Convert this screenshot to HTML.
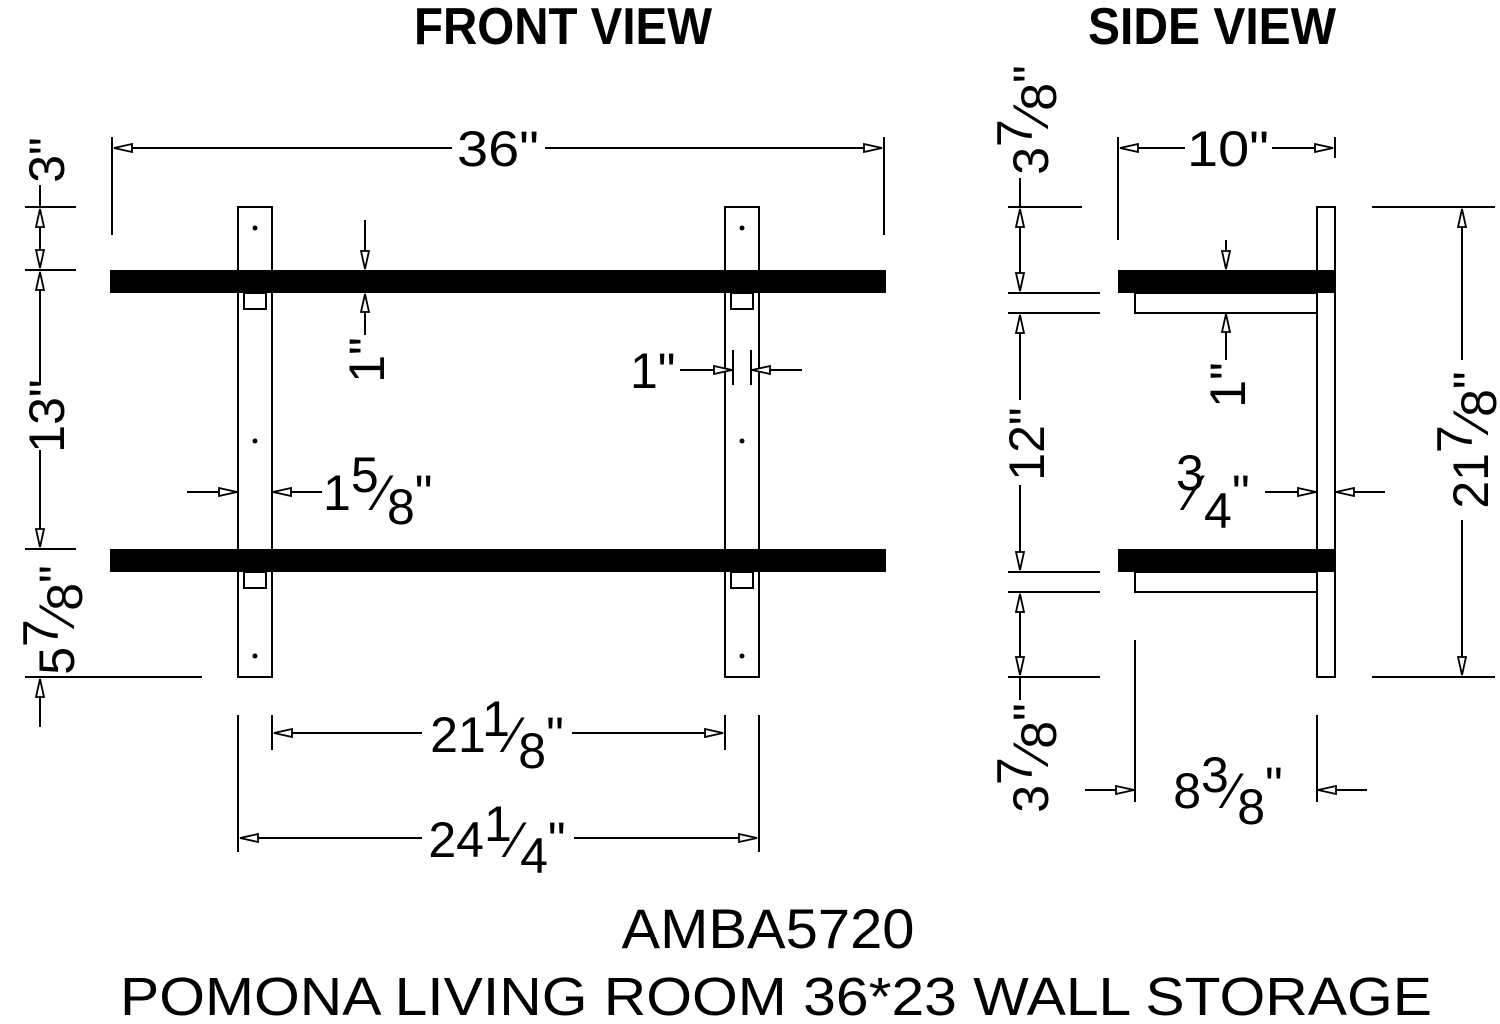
<!DOCTYPE html>
<html><head><meta charset="utf-8"><style>
html,body{margin:0;padding:0;background:#fff;}
svg{display:block;font-family:"Liberation Sans",sans-serif;}
</style></head><body>
<svg width="1500" height="1024" viewBox="0 0 1500 1024" xmlns="http://www.w3.org/2000/svg">
<defs>
<marker id="a" markerUnits="userSpaceOnUse" markerWidth="22" markerHeight="14" refX="19" refY="7" orient="auto-start-reverse" viewBox="0 0 22 14">
<path d="M1,3 L19,7 L1,11 Z" fill="#fff" stroke="#000" stroke-width="1.8"/>
</marker>
</defs>
<g stroke="#000" stroke-width="2" fill="none">
<line x1="112" y1="137" x2="112" y2="235"/>
<line x1="884" y1="137" x2="884" y2="235"/>
<line x1="452" y1="148" x2="114" y2="148" marker-end="url(#a)"/>
<line x1="545" y1="148" x2="882" y2="148" marker-end="url(#a)"/>
<rect x="238" y="207" width="34" height="470"/>
<rect x="725" y="207" width="34" height="470"/>
<rect x="244" y="293" width="22" height="16"/>
<rect x="244" y="572" width="22" height="16"/>
<rect x="731" y="293" width="22" height="16"/>
<rect x="731" y="572" width="22" height="16"/>
<line x1="25" y1="207" x2="76" y2="207"/>
<line x1="25" y1="270" x2="76" y2="270"/>
<line x1="25" y1="549" x2="76" y2="549"/>
<line x1="25" y1="677" x2="202" y2="677"/>
<line x1="40" y1="185" x2="40" y2="207"/>
<line x1="40" y1="238" x2="40" y2="209" marker-end="url(#a)"/>
<line x1="40" y1="238" x2="40" y2="268" marker-end="url(#a)"/>
<line x1="40" y1="385" x2="40" y2="272" marker-end="url(#a)"/>
<line x1="40" y1="450" x2="40" y2="547" marker-end="url(#a)"/>
<line x1="40" y1="727" x2="40" y2="679" marker-end="url(#a)"/>
<line x1="365" y1="220" x2="365" y2="269" marker-end="url(#a)"/>
<line x1="365" y1="335" x2="365" y2="294" marker-end="url(#a)"/>
<line x1="187" y1="492" x2="237" y2="492" marker-end="url(#a)"/>
<line x1="322" y1="492" x2="273" y2="492" marker-end="url(#a)"/>
<line x1="733" y1="350" x2="733" y2="385"/>
<line x1="751" y1="350" x2="751" y2="385"/>
<line x1="680" y1="370" x2="732" y2="370" marker-end="url(#a)"/>
<line x1="802" y1="370" x2="752" y2="370" marker-end="url(#a)"/>
<line x1="272" y1="715" x2="272" y2="750"/>
<line x1="725" y1="715" x2="725" y2="750"/>
<line x1="422" y1="733" x2="274" y2="733" marker-end="url(#a)"/>
<line x1="572" y1="733" x2="723" y2="733" marker-end="url(#a)"/>
<line x1="238" y1="715" x2="238" y2="852"/>
<line x1="759" y1="715" x2="759" y2="852"/>
<line x1="422" y1="838" x2="240" y2="838" marker-end="url(#a)"/>
<line x1="574" y1="838" x2="757" y2="838" marker-end="url(#a)"/>

<rect x="1317" y="207" width="18" height="470"/>
<rect x="1135" y="293" width="182" height="20"/>
<rect x="1135" y="572" width="182" height="20"/>
<line x1="1118" y1="137" x2="1118" y2="240"/>
<line x1="1335" y1="137" x2="1335" y2="158"/>
<line x1="1185" y1="148" x2="1120" y2="148" marker-end="url(#a)"/>
<line x1="1272" y1="148" x2="1333" y2="148" marker-end="url(#a)"/>
<line x1="1008" y1="207" x2="1082" y2="207"/>
<line x1="1008" y1="293" x2="1100" y2="293"/>
<line x1="1008" y1="313" x2="1100" y2="313"/>
<line x1="1008" y1="572" x2="1100" y2="572"/>
<line x1="1008" y1="592" x2="1100" y2="592"/>
<line x1="1008" y1="677" x2="1100" y2="677"/>
<line x1="1020" y1="178" x2="1020" y2="207"/>
<line x1="1020" y1="250" x2="1020" y2="209" marker-end="url(#a)"/>
<line x1="1020" y1="250" x2="1020" y2="291" marker-end="url(#a)"/>
<line x1="1020" y1="400" x2="1020" y2="315" marker-end="url(#a)"/>
<line x1="1020" y1="485" x2="1020" y2="570" marker-end="url(#a)"/>
<line x1="1020" y1="635" x2="1020" y2="594" marker-end="url(#a)"/>
<line x1="1020" y1="635" x2="1020" y2="675" marker-end="url(#a)"/>
<line x1="1020" y1="677" x2="1020" y2="700"/>
<line x1="1226" y1="240" x2="1226" y2="269" marker-end="url(#a)"/>
<line x1="1226" y1="360" x2="1226" y2="314" marker-end="url(#a)"/>
<line x1="1265" y1="492" x2="1316" y2="492" marker-end="url(#a)"/>
<line x1="1385" y1="492" x2="1336" y2="492" marker-end="url(#a)"/>
<line x1="1372" y1="207" x2="1495" y2="207"/>
<line x1="1372" y1="677" x2="1495" y2="677"/>
<line x1="1462" y1="360" x2="1462" y2="209" marker-end="url(#a)"/>
<line x1="1462" y1="520" x2="1462" y2="675" marker-end="url(#a)"/>
<line x1="1135" y1="640" x2="1135" y2="802"/>
<line x1="1317" y1="715" x2="1317" y2="802"/>
<line x1="1085" y1="790" x2="1134" y2="790" marker-end="url(#a)"/>
<line x1="1367" y1="790" x2="1318" y2="790" marker-end="url(#a)"/>
</g>
<g fill="#000">
<rect x="110" y="270" width="776" height="23"/>
<rect x="110" y="549" width="776" height="23"/>
<rect x="1118" y="270" width="217" height="23"/>
<rect x="1118" y="549" width="217" height="23"/>
<circle cx="255" cy="228" r="2.5"/><circle cx="255" cy="441" r="2.5"/><circle cx="255" cy="656" r="2.5"/>
<circle cx="742" cy="228" r="2.5"/><circle cx="742" cy="441" r="2.5"/><circle cx="742" cy="656" r="2.5"/>
</g>
<g fill="#000" font-size="50">
<text x="563" y="44" font-weight="bold" font-size="52" text-anchor="middle" textLength="298" lengthAdjust="spacingAndGlyphs">FRONT VIEW</text>
<text x="1212" y="44" font-weight="bold" font-size="52" text-anchor="middle" textLength="248" lengthAdjust="spacingAndGlyphs">SIDE VIEW</text>
<text x="498" y="166" text-anchor="middle" textLength="82" lengthAdjust="spacingAndGlyphs">36"</text>
<text x="1228" y="166" text-anchor="middle" textLength="82" lengthAdjust="spacingAndGlyphs">10"</text>
<text transform="translate(64,160) rotate(-90)" text-anchor="middle">3"</text>
<text transform="translate(64,416) rotate(-90)" text-anchor="middle">13"</text>
<text transform="translate(74,620) rotate(-90)" text-anchor="middle">5<tspan dy="-16">7</tspan><tspan dy="16">⁄</tspan><tspan dy="8">8</tspan><tspan dy="-8">"</tspan></text>
<text transform="translate(384,360) rotate(-90)" text-anchor="middle">1"</text>
<text x="323" y="510">1<tspan dy="-18">5</tspan><tspan dy="18">⁄</tspan><tspan dy="14">8</tspan><tspan dy="-14">"</tspan></text>
<text x="630" y="388">1"</text>
<text x="497" y="752" text-anchor="middle">21<tspan dy="-16">1</tspan><tspan dy="16">⁄</tspan><tspan dy="16">8</tspan><tspan dy="-16">"</tspan></text>
<text x="497" y="857" text-anchor="middle">24<tspan dy="-16">1</tspan><tspan dy="16">⁄</tspan><tspan dy="16">4</tspan><tspan dy="-16">"</tspan></text>
<text transform="translate(1048,120) rotate(-90)" text-anchor="middle">3<tspan dy="-16">7</tspan><tspan dy="16">⁄</tspan><tspan dy="8">8</tspan><tspan dy="-8">"</tspan></text>
<text transform="translate(1044,444) rotate(-90)" text-anchor="middle">12"</text>
<text transform="translate(1048,758) rotate(-90)" text-anchor="middle">3<tspan dy="-16">7</tspan><tspan dy="16">⁄</tspan><tspan dy="8">8</tspan><tspan dy="-8">"</tspan></text>
<text transform="translate(1245,385) rotate(-90)" text-anchor="middle">1"</text>
<text><tspan x="1176" y="490">3</tspan><tspan x="1190" y="510">⁄</tspan><tspan x="1204" y="528">4</tspan><tspan x="1232" y="510">"</tspan></text>
<text transform="translate(1488,440) rotate(-90)" text-anchor="middle">21<tspan dy="-16">7</tspan><tspan dy="16">⁄</tspan><tspan dy="8">8</tspan><tspan dy="-8">"</tspan></text>
<text x="1228" y="808" text-anchor="middle">8<tspan dy="-16">3</tspan><tspan dy="16">⁄</tspan><tspan dy="16">8</tspan><tspan dy="-22">"</tspan></text>
<text x="768" y="948" font-size="56" text-anchor="middle" textLength="293" lengthAdjust="spacingAndGlyphs">AMBA5720</text>
<text x="120" y="1015" font-size="54" textLength="1312" lengthAdjust="spacingAndGlyphs">POMONA LIVING ROOM 36*23 WALL STORAGE</text>
</g>
</svg>
</body></html>
